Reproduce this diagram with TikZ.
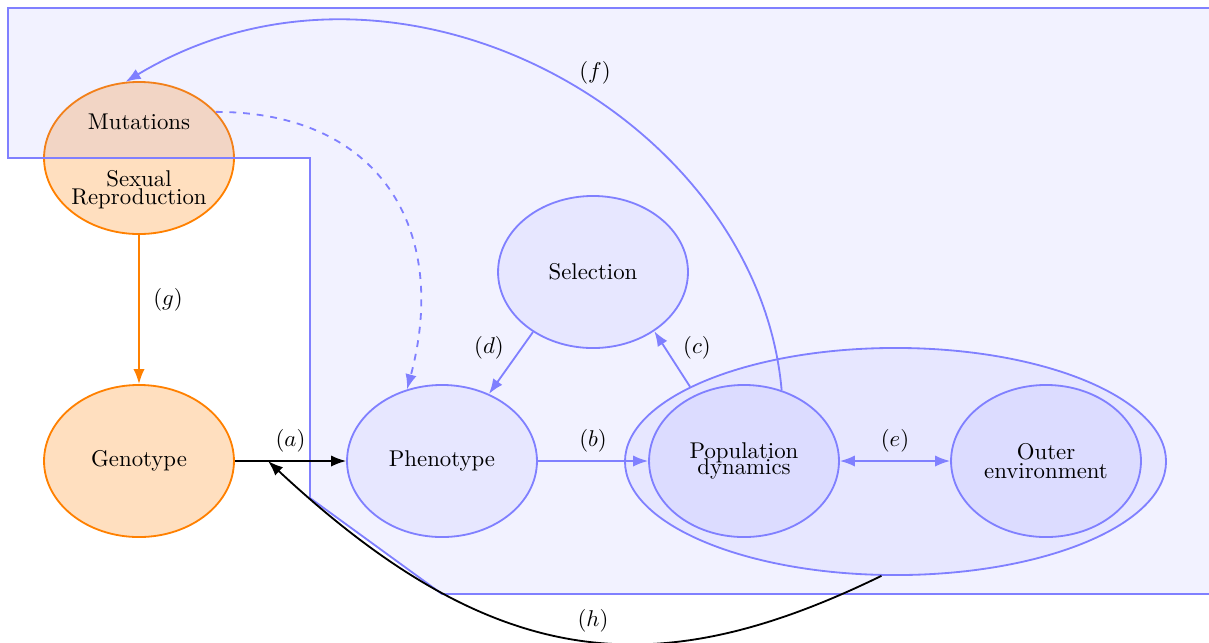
\documentclass[tikz,border=0pt]{standalone}
\usetikzlibrary{arrows.meta,shapes.geometric}
\begin{document}
\begin{tikzpicture}[x=0.4386pt,y=-0.4386pt,
  ell/.style={ellipse, draw=blue!50, thick, fill=blue!50, fill opacity=0.1, text opacity=1,
    minimum width=83.3pt, minimum height=66.7pt, inner sep=0pt, align=center},
  orell/.style={ellipse, draw=orange, thick, fill=orange!25,
    minimum width=83.3pt, minimum height=66.7pt, inner sep=0pt, align=center},
  conn/.style={draw=blue!50, thick, -Latex},
  blk/.style={draw=black, thick, -Latex},
  lbl/.style={inner sep=0pt}]
\useasboundingbox (0,0) rectangle (1209,642);
\clip (0,0) rectangle (1209,642);
% orange ellipse under the region
\node[orell] (ms) at (139,158) {};
% region
\draw[blue!50, thick, fill=blue!50, fill opacity=0.1]
  (8,8) -- (1220,8) -- (1220,594) -- (442,594) -- (310,498) -- (310,158) -- (8,158) -- cycle;
\node (mut) at (139,122) {Mutations};
\node[align=center] (sr) at (139,190) {Sexual\\[-4pt]Reproduction};
% nodes
\node[orell] (geno) at (139,461) {Genotype};
\node[ell] (pheno) at (442,461) {Phenotype};
\node[ell] (sel) at (593,272) {Selection};
\node[ell, minimum width=237.3pt, minimum height=99.6pt] (big) at (895.5,461.5) {};
\node[ell] (pop) at (744,461) {Population\\[-5pt]dynamics};
\node[ell] (outer) at (1046,461) {Outer\\[-4pt]environment};
% connectors
\draw[blk] (geno) -- node[above]{$(a)$} (pheno);
\coordinate (hend) at (268,461);
\draw[conn] (pheno) -- node[above]{$(b)$} (pop);
\draw[conn] (big.160) -- (sel.-44);
\node[lbl] (lc) at (697,348) {$(c)$};
\draw[conn] (sel.225) -- (pheno.55);
\node[lbl] (ld) at (489,348) {$(d)$};
\draw[draw=blue!50, thick, Latex-Latex] (pop) -- node[above]{$(e)$} (outer);
\draw[conn] (pop.62) to[out=95,in=31,out looseness=0.964,in looseness=1.126] (ms.100);
\node[lbl] (lf) at (595,73) {$(f)$};
\draw[conn, dashed] (ms.31) to[out=0,in=75,looseness=1.25] (pheno.116);
\draw[draw=orange, thick, -Latex] (ms) -- (geno);
\node[lbl] (lg) at (168,300) {$(g)$};
\draw[blk] (big.263) to[out=206,in=-43,out looseness=1.03,in looseness=1.27] (hend);
\node[lbl] (lh) at (593,621) {$(h)$};
\end{tikzpicture}
\end{document}
